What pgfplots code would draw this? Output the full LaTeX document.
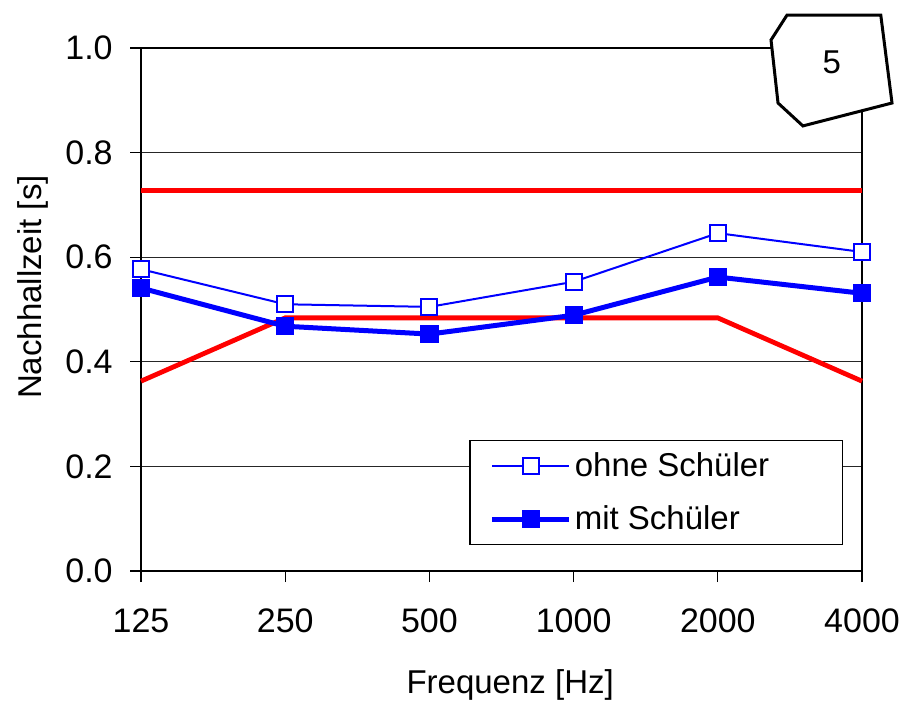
\documentclass[border=0pt]{standalone}
\usepackage{pgfplots}
\pgfplotsset{compat=1.18}
\usepackage{fontspec}
\setmainfont{Liberation Sans}

\definecolor{pureblue}{RGB}{0,0,255}
\definecolor{purered}{RGB}{255,0,0}

% reverberation times per octave band (index 0..5 = 125 Hz .. 4000 Hz)
\pgfplotstableread{
x  ohne   mit
0  0.577  0.541
1  0.510  0.468
2  0.505  0.453
3  0.553  0.489
4  0.646  0.562
5  0.610  0.531
}\messdaten

% tolerance band for the room
\pgfplotstableread{
x  lo     hi
0  0.363  0.727
1  0.484  0.727
4  0.484  0.727
5  0.363  0.727
}\toleranz

\begin{document}
\begin{tikzpicture}
\begin{axis}[
  scale only axis,
  width=360.5pt, height=261.5pt,
  clip=false,
  xmin=0, xmax=5,
  ymin=0, ymax=1,
  xtick={0,1,2,3,4,5},
  xticklabels={125,250,500,1000,2000,4000},
  ytick={0,0.2,0.4,0.6,0.8,1.0},
  /pgf/number format/assume math mode=true,
  yticklabel style={/pgf/number format/.cd, fixed, fixed zerofill, precision=1},
  tick align=outside,
  xtick pos=left, ytick pos=left,
  major tick length=5.5pt,
  tick style={black, line width=0.6pt},
  ymajorgrids,
  major grid style={black!85, line width=0.5pt},
  axis line style={black, line width=0.8pt},
  ticklabel style={font=\fontsize{17}{20}\selectfont, inner sep=0pt},
  xticklabel shift=13pt,
  yticklabel shift=8.5pt,
  xlabel={Frequenz [Hz]},
  ylabel={Nachhallzeit [s]},
  every axis x label/.style={at={(rel axis cs:0.512,-0.218)}, anchor=center,
    font=\fontsize{16.5}{20}\selectfont},
  every axis y label/.style={at={(rel axis cs:-0.1498,0.543)}, anchor=center,
    rotate=90, font=\fontsize{16.5}{20}\selectfont},
  legend style={
    at={(rel axis cs:0.455,0.2505)}, anchor=north west,
    draw=black, line width=0.75pt, fill=white,
    font=\fontsize{16.5}{20}\selectfont,
    inner xsep=10pt, inner ysep=6pt,
    row sep=13pt,
    nodes={inner sep=0pt},
    /tikz/every odd column/.append style={column sep=1.5pt},
  },
  legend cell align=left,
  legend image code/.code={
    \draw[mark repeat=2, mark phase=2]
      plot coordinates {(0pt,0pt) (19.25pt,0pt) (38.5pt,0pt)};
  },
]
  % tolerance limits
  \addplot[purered, line width=2.4pt, forget plot] table[x=x, y=hi] {\toleranz};
  \addplot[purered, line width=2.4pt, forget plot] table[x=x, y=lo] {\toleranz};

  % measured values
  \addplot[pureblue, line width=1pt, mark=square*,
    mark options={fill=white, draw=pureblue, line width=1pt}, mark size=4pt]
    table[x=x, y=ohne] {\messdaten};
  \addlegendentry{ohne Schüler\hspace*{26.5pt}\null}

  \addplot[pureblue, line width=2.5pt, mark=square*,
    mark options={fill=pureblue, draw=pureblue, line width=0.5pt}, mark size=4.3pt]
    table[x=x, y=mit] {\messdaten};
  \addlegendentry{\rule[-6.5pt]{0pt}{6.5pt}mit Schüler}

  % corner badge and picture frame
  \coordinate (b1) at (rel axis cs:0.896,1.063);
  \coordinate (b2) at (rel axis cs:1.026,1.063);
  \coordinate (b3) at (rel axis cs:1.0416,0.8948);
  \coordinate (b4) at (rel axis cs:0.918,0.851);
  \coordinate (b5) at (rel axis cs:0.8835,0.8948);
  \coordinate (b6) at (rel axis cs:0.8738,1.0153);
  \coordinate (bt) at (rel axis cs:0.958,0.973);
  \coordinate (bbsw) at (rel axis cs:-0.1956,-0.2543);
  \coordinate (bbne) at (rel axis cs:1.0596,1.0918);
\end{axis}
\draw[black, line width=1.5pt, fill=white, line join=miter]
  (b1) -- (b2) -- (b3) -- (b4) -- (b5) -- (b6) -- cycle;
\node[font=\fontsize{16.5}{20}\selectfont] at (bt) {5};
\path (bbsw) rectangle (bbne);
\end{tikzpicture}
\end{document}
